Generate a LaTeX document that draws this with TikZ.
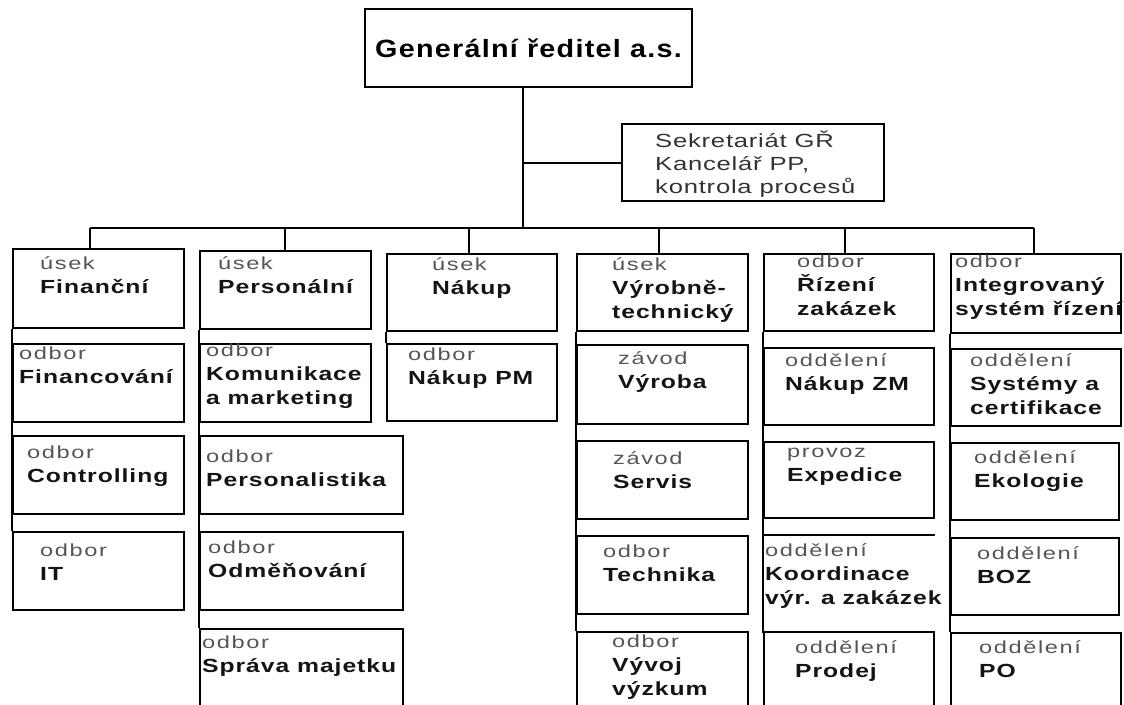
\documentclass[tikz,border=0pt]{standalone}
\usepackage{fontspec}
\setmainfont{Liberation Sans}
\newfontfamily\titlefont[LetterSpace=5,FakeStretch=1.15]{Liberation Sans}
\newfontfamily\sekfont[LetterSpace=4,FakeStretch=1.35]{Liberation Sans}
\newfontfamily\kindfont[LetterSpace=9,FakeStretch=1.35]{Liberation Sans}
\newfontfamily\namefont[LetterSpace=5,FakeStretch=1.3]{Liberation Sans}
\definecolor{kindgray}{RGB}{85,85,85}
\definecolor{namegray}{RGB}{20,20,20}
\definecolor{sekgray}{RGB}{50,50,50}
\newcommand{\kind}[1]{{\kindfont\mdseries\fontsize{17.5}{24}\selectfont\color{kindgray}#1}}

\begin{document}
\begin{tikzpicture}[x=1pt, y=-1pt,
    unit/.style={draw, line width=2pt, anchor=north west, inner sep=0pt},
    link/.style={line width=2pt},
    txt/.style={anchor=north west, align=left, inner sep=0pt, text=namegray,
        font=\namefont\bfseries\fontsize{19}{24}\selectfont, execute at begin node=\strut}]
        \clip (0,0) rectangle (1124,704);

        % Top
        \node[unit, minimum width=327, minimum height=78,
            font=\titlefont\bfseries\fontsize{25}{30}\selectfont] (gr) at (364,8) {Generální ředitel a.s.};
        \node[unit, minimum width=262, minimum height=77] (sek) at (621,123) {};
        \node[txt, text=sekgray, font=\sekfont\fontsize{19}{23}\selectfont] (sek-t)
            at ([shift={(34,8)}]sek.north west) {Sekretariát GŘ\\Kancelář PP,\\kontrola procesů};
        \coordinate (bus) at (523,228);

        % Column 1
        \node[unit, minimum width=171, minimum height=79] (fin) at (12,248) {};
        \node[unit, minimum width=171, minimum height=78] (fincov) at (12,343) {};
        \node[unit, minimum width=171, minimum height=78] (contr) at (12,435) {};
        \node[unit, minimum width=171, minimum height=78] (it) at (12,531) {};
        \node[txt] (fin-t) at ([shift={(28,8)}]fin.north west) {\kind{úsek}\\Finanční};
        \node[txt] (fincov-t) at ([shift={(7,4)}]fincov.north west) {\kind{odbor}\\Financování};
        \node[txt] (contr-t) at ([shift={(15,11)}]contr.north west) {\kind{odbor}\\Controlling};
        \node[txt] (it-t) at ([shift={(28,13)}]it.north west) {\kind{odbor}\\IT};

        % Column 2
        \node[unit, minimum width=171, minimum height=78] (pers) at (199,250) {};
        \node[unit, minimum width=171, minimum height=78] (kom) at (199,343) {};
        \node[unit, minimum width=203, minimum height=78] (perslist) at (199,435) {};
        \node[unit, minimum width=203, minimum height=78] (odm) at (199,531) {};
        \node[unit, minimum width=203, minimum height=90] (sprava) at (199,628) {};
        \node[txt] (pers-t) at ([shift={(19,6)}]pers.north west) {\kind{úsek}\\Personální};
        \node[txt] (kom-t) at ([shift={(7,1)}]kom.north west) {\kind{odbor}\\Komunikace\\a marketing};
        \node[txt] (perslist-t) at ([shift={(7,15)}]perslist.north west) {\kind{odbor}\\Personalistika};
        \node[txt] (odm-t) at ([shift={(9,10)}]odm.north west) {\kind{odbor}\\Odměňování};
        \node[txt] (sprava-t) at ([shift={(3,8)}]sprava.north west) {\kind{odbor}\\Správa majetku};

        % Column 3
        \node[unit, minimum width=170, minimum height=77] (nakup) at (386,253) {};
        \node[unit, minimum width=170, minimum height=77] (nakuppm) at (386,343) {};
        \node[txt] (nakup-t) at ([shift={(46,4)}]nakup.north west) {\kind{úsek}\\Nákup};
        \node[txt] (nakuppm-t) at ([shift={(22,5)}]nakuppm.north west) {\kind{odbor}\\Nákup PM};

        % Column 4
        \node[unit, minimum width=171, minimum height=77] (vyr) at (576,253) {};
        \node[unit, minimum width=171, minimum height=79] (vyroba) at (576,344) {};
        \node[unit, minimum width=171, minimum height=78] (servis) at (576,440) {};
        \node[unit, minimum width=171, minimum height=78] (technika) at (576,535) {};
        \node[unit, minimum width=171, minimum height=90] (vyvoj) at (576,631) {};
        \node[txt] (vyr-t) at ([shift={(36,4)}]vyr.north west) {\kind{úsek}\\Výrobně-\\technický};
        \node[txt] (vyroba-t) at ([shift={(42,7)}]vyroba.north west) {\kind{závod}\\Výroba};
        \node[txt] (servis-t) at ([shift={(37,11)}]servis.north west) {\kind{závod}\\Servis};
        \node[txt] (technika-t) at ([shift={(27,10)}]technika.north west) {\kind{odbor}\\Technika};
        \node[txt] (vyvoj-t) at ([shift={(36,4)}]vyvoj.north west) {\kind{odbor}\\Vývoj\\výzkum};

        % Column 5
        \node[unit, minimum width=170, minimum height=77] (rizeni) at (763,253) {};
        \node[unit, minimum width=170, minimum height=77] (nakupzm) at (763,347) {};
        \node[unit, minimum width=170, minimum height=76] (expedice) at (763,441) {};
        \node[unit, draw=none, minimum width=170, minimum height=96] (koord) at (763,535) {};
        \node[unit, minimum width=170, minimum height=90] (prodej) at (763,631) {};
        \node[txt] (rizeni-t) at ([shift={(34,2)}]rizeni.north west) {\kind{odbor}\\Řízení\\zakázek};
        \node[txt] (nakupzm-t) at ([shift={(22,6)}]nakupzm.north west) {\kind{oddělení}\\Nákup ZM};
        \node[txt] (expedice-t) at ([shift={(24,7)}]expedice.north west) {\kind{provoz}\\Expedice};
        \node[txt] (koord-t) at ([shift={(2,8)}]koord.north west) {\kind{oddělení}\\Koordinace\\výr. a zakázek};
        \node[txt] (prodej-t) at ([shift={(32,9)}]prodej.north west) {\kind{oddělení}\\Prodej};

        % Column 6
        \node[unit, minimum width=170, minimum height=79] (ims) at (950,253) {};
        \node[unit, minimum width=170, minimum height=77] (systemy) at (950,348) {};
        \node[unit, minimum width=168, minimum height=77] (ekologie) at (950,442) {};
        \node[unit, minimum width=168, minimum height=77] (boz) at (950,537) {};
        \node[unit, minimum width=170, minimum height=90] (po) at (950,632) {};
        \node[txt] (ims-t) at ([shift={(5,2)}]ims.north west) {\kind{odbor}\\Integrovaný\\systém řízení};
        \node[txt] (systemy-t) at ([shift={(20,5)}]systemy.north west) {\kind{oddělení}\\Systémy a\\certifikace};
        \node[txt] (ekologie-t) at ([shift={(24,8)}]ekologie.north west) {\kind{oddělení}\\Ekologie};
        \node[txt] (boz-t) at ([shift={(27,9)}]boz.north west) {\kind{oddělení}\\BOZ};
        \node[txt] (po-t) at ([shift={(29,8)}]po.north west) {\kind{oddělení}\\PO};

        % Connections
        \draw[link] (bus |- gr.south) -- (bus);
        \draw[link] (bus |- sek.west) -- (sek.west);
        \foreach \b/\s in {fin/-9, pers/-1, nakup/-3, vyr/-4, rizeni/-4, ims/-2}
            \coordinate (\b-top) at ([xshift=\s]\b.north);
        \foreach \b in {fin, pers, nakup, vyr, rizeni, ims}
            \draw[link] (\b-top) -- (\b-top |- bus);
        \draw[link] (fin-top |- bus) -- (ims-top |- bus);
        \foreach \a/\b in {fin/it, pers/sprava, nakup/nakuppm, vyr/vyvoj, rizeni/prodej, ims/po}
            \draw[link] (\a.south west) -- (\b.north west);
        \draw[link] (koord.north east) -- (koord.north west) -- (koord.south west);
    \end{tikzpicture}
\end{document}
